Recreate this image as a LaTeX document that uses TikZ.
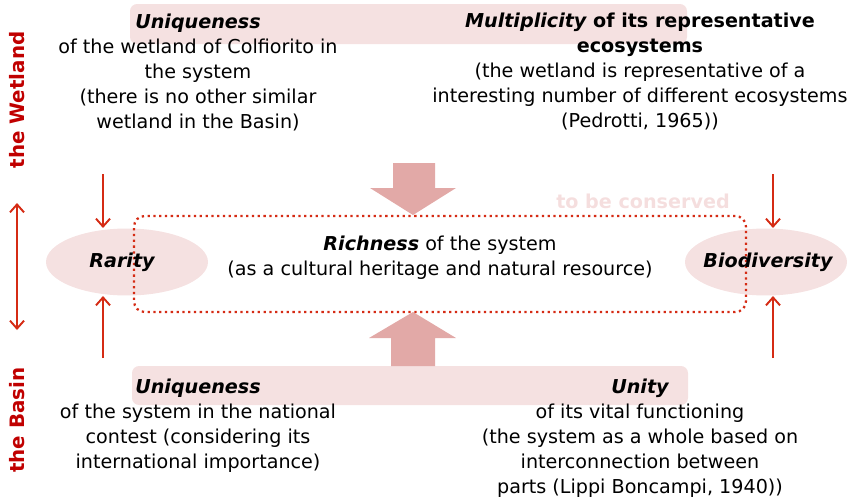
\documentclass[tikz,border=0pt]{standalone}
\usepackage{fontspec}
\setmainfont{DejaVu Sans}
\usetikzlibrary{arrows.meta,shapes.geometric}

\definecolor{bandpink}{HTML}{F5E1E1}
\definecolor{blockpink}{HTML}{E2A9A7}
\definecolor{linered}{HTML}{D52B14}
\definecolor{sidered}{HTML}{C00000}
\definecolor{fadepink}{HTML}{F5DEDE}

\tikzset{
    txt/.style={align=center, inner sep=0pt, anchor=north, font=\fontsize{10.9}{14.3}\selectfont},
    head/.style={font=\fontsize{10.9}{14.3}\selectfont\bfseries\itshape},
    side/.style={rotate=90, text=sidered, font=\fontsize{11.3}{13}\selectfont\bfseries},
    blob/.style={ellipse, fill=bandpink, minimum width=3.24cm, minimum height=1.34cm},
    link/.style={linered, line width=1.1pt, -{Straight Barb[length=4.5pt, width=8pt]}},
}

\begin{document}
\begin{tikzpicture}[x=0.02cm, y=-0.02cm, semithick]
            \useasboundingbox (0, 0) rectangle (853, 501);

            \fill[bandpink, rounded corners=4pt] (130, 4) rectangle (687, 44);
            \fill[bandpink, rounded corners=4pt] (132, 366) rectangle (688, 405);

            \node[txt] (wetunique) at (198, 13) {{\bfseries\itshape Uniqueness}\\of the wetland of Colfiorito in\\the system\\(there is no other similar\\wetland in the Basin)};
            \node[txt] (multi) at (640, 12) {{\bfseries{\itshape Multiplicity} of its representative}\\{\bfseries ecosystems}\\(the wetland is representative of a\\interesting number of different ecosystems\\(Pedrotti, 1965))};
            \node[txt] (basinunique) at (198, 378) {{\bfseries\itshape Uniqueness}\\of the system in the national\\contest (considering its\\international importance)};
            \node[txt] (unity) at (640, 378) {{\bfseries\itshape Unity}\\of its vital functioning\\(the system as a whole based on\\interconnection between\\parts (Lippi Boncampi, 1940))};

            \fill[blockpink] (393, 163) -- (435, 163) -- (435, 188) -- (456, 188) -- (413, 215) -- (370, 188) -- (393, 188) -- cycle;
            \fill[blockpink] (391, 366) -- (435, 366) -- (435, 338) -- (456, 338) -- (413, 312) -- (369, 338) -- (391, 338) -- cycle;

            \node[blob] (rarity) at (127, 262) {};
            \node[blob] (biodiv) at (766, 262) {};

            \node[draw=linered, dotted, line width=1.3pt, rounded corners=6pt, minimum width=12.24cm, minimum height=1.92cm] (richbox) at (440, 264) {};
            \node[text=fadepink, font=\fontsize{10.9}{13}\selectfont\bfseries] (conserve) at (643, 201) {to be conserved};

            \node[head] at ([xshift=-0.1cm]rarity.center) {Rarity};
            \node[head] at ([xshift=0.04cm]biodiv.center) {Biodiversity};
            \node[txt] (richness) at (440, 235) {{\bfseries\itshape Richness} of the system\\(as a cultural heritage and natural resource)};

            \node[side] (wetland) at (17, 100) {the Wetland};
            \node[side] (basin) at (17, 420) {the Basin};

            \coordinate (lt) at (103, 174);
            \coordinate (lb) at (103, 358);
            \coordinate (rt) at (773, 174);
            \coordinate (rb) at (773, 358);
            \draw[link] (lt) -- (rarity.north -| lt);
            \draw[link] (lb) -- (rarity.south -| lb);
            \draw[link] (rt) -- (biodiv.north -| rt);
            \draw[link] (rb) -- (biodiv.south -| rb);

            \coordinate (st) at (17, 203);
            \coordinate (sb) at (17, 330);
            \draw[link, {Straight Barb[length=4.5pt, width=8pt]}-{Straight Barb[length=4.5pt, width=8pt]}] (st) -- (sb);
\end{tikzpicture}
\end{document}
